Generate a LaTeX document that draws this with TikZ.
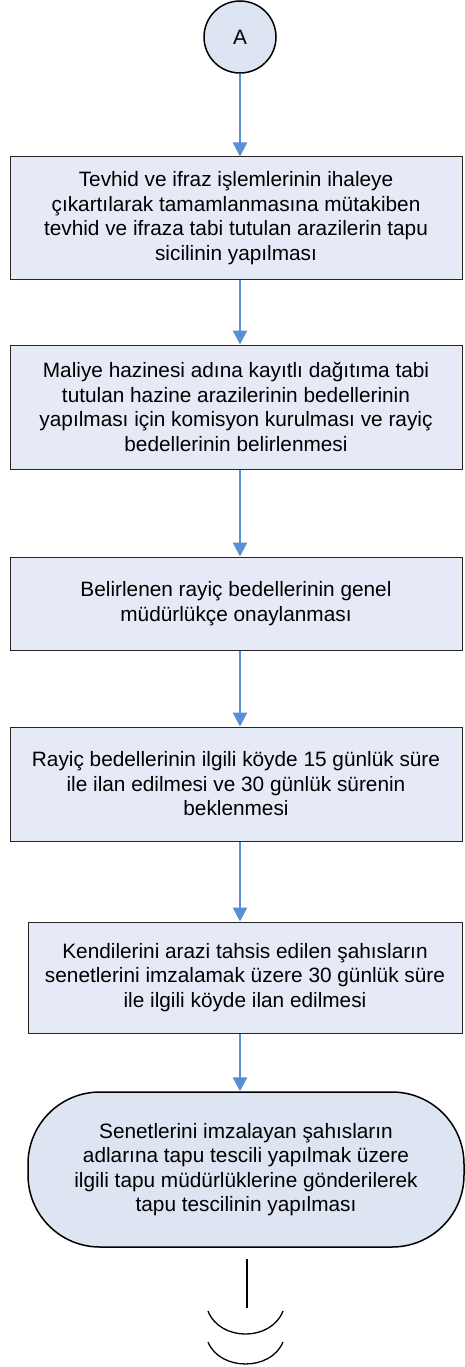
\documentclass[tikz,border=0pt]{standalone}
\usepackage{fontspec}
\setmainfont{Liberation Sans}
\usepackage{xcolor}
\usetikzlibrary{arrows.meta}
\definecolor{boxfill}{RGB}{230,234,246}
\definecolor{termfill}{RGB}{221,228,242}
\definecolor{flowblue}{RGB}{88,142,214}

\begin{document}
\begin{tikzpicture}[x=1pt,y=-1pt,
    every node/.style={font=\fontsize{20.8}{24.5}\selectfont, align=center},
    stepbox/.style={draw=black!85, line width=1pt, fill=boxfill, inner sep=0pt},
    flow/.style={flowblue, line width=2.5pt, -{Triangle[length=14pt,width=14pt]}}]
    \useasboundingbox (0,0) rectangle (465,1367);

    % Connector A
    \node[circle, draw, line width=1.5pt, fill=termfill, minimum size=72pt, inner sep=0pt] (circA) at (240,37) {A};

    % Steps
    \node[stepbox, minimum width=452pt, minimum height=122pt] (tevhid) at (236,218)
        {Tevhid ve ifraz işlemlerinin ihaleye\\çıkartılarak tamamlanmasına mütakiben\\tevhid ve ifraza tabi tutulan arazilerin tapu\\sicilinin yapılması};
    \node[stepbox, minimum width=452pt, minimum height=124pt] (maliye) at (236,407)
        {Maliye hazinesi adına kayıtlı dağıtıma tabi\\tutulan hazine arazilerinin bedellerinin\\yapılması için komisyon kurulması ve rayiç\\bedellerinin belirlenmesi};
    \node[stepbox, minimum width=452pt, minimum height=93pt] (onay) at (236,603.5)
        {Belirlenen rayiç bedellerinin genel\\müdürlükçe onaylanması};
    \node[stepbox, minimum width=452pt, minimum height=114pt] (ilan) at (236,784)
        {Rayiç bedellerinin ilgili köyde 15 günlük süre\\ile ilan edilmesi ve 30 günlük sürenin\\beklenmesi};
    \node[stepbox, minimum width=434pt, minimum height=111pt] (senet) at (245,977.5)
        {Kendilerini arazi tahsis edilen şahısların\\senetlerini imzalamak üzere 30 günlük süre\\ile ilgili köyde ilan edilmesi};

    % Terminal
    \node[draw, line width=1.5pt, fill=termfill, rounded corners=72pt, minimum width=436pt, minimum height=155pt, inner sep=0pt] (tescil) at (246,1169.5)
        {Senetlerini imzalayan şahısların\\adlarına tapu tescili yapılmak üzere\\ilgili tapu müdürlüklerine gönderilerek\\tapu tescilinin yapılması};

    % Arrows
    \draw[flow] (circA.south) -- (tevhid.north -| circA.south);
    \draw[flow] (tevhid.south -| circA.south) -- (maliye.north -| circA.south);
    \draw[flow] (maliye.south -| circA.south) -- (onay.north -| circA.south);
    \draw[flow] (onay.south -| circA.south) -- (ilan.north -| circA.south);
    \draw[flow] (ilan.south -| circA.south) -- (senet.north -| circA.south);
    \draw[flow] (senet.south -| circA.south) -- (tescil.north -| circA.south);

    % End mark
    \draw[line width=1.3pt] (247,1259) -- (247,1308);
    \draw[line width=1.3pt] (208,1311) .. controls (220,1341.7) and (271,1341.7) .. (283,1311);
    \draw[line width=1.3pt] (208,1342) .. controls (220,1371.3) and (271,1371.3) .. (283,1342);
\end{tikzpicture}
\end{document}
